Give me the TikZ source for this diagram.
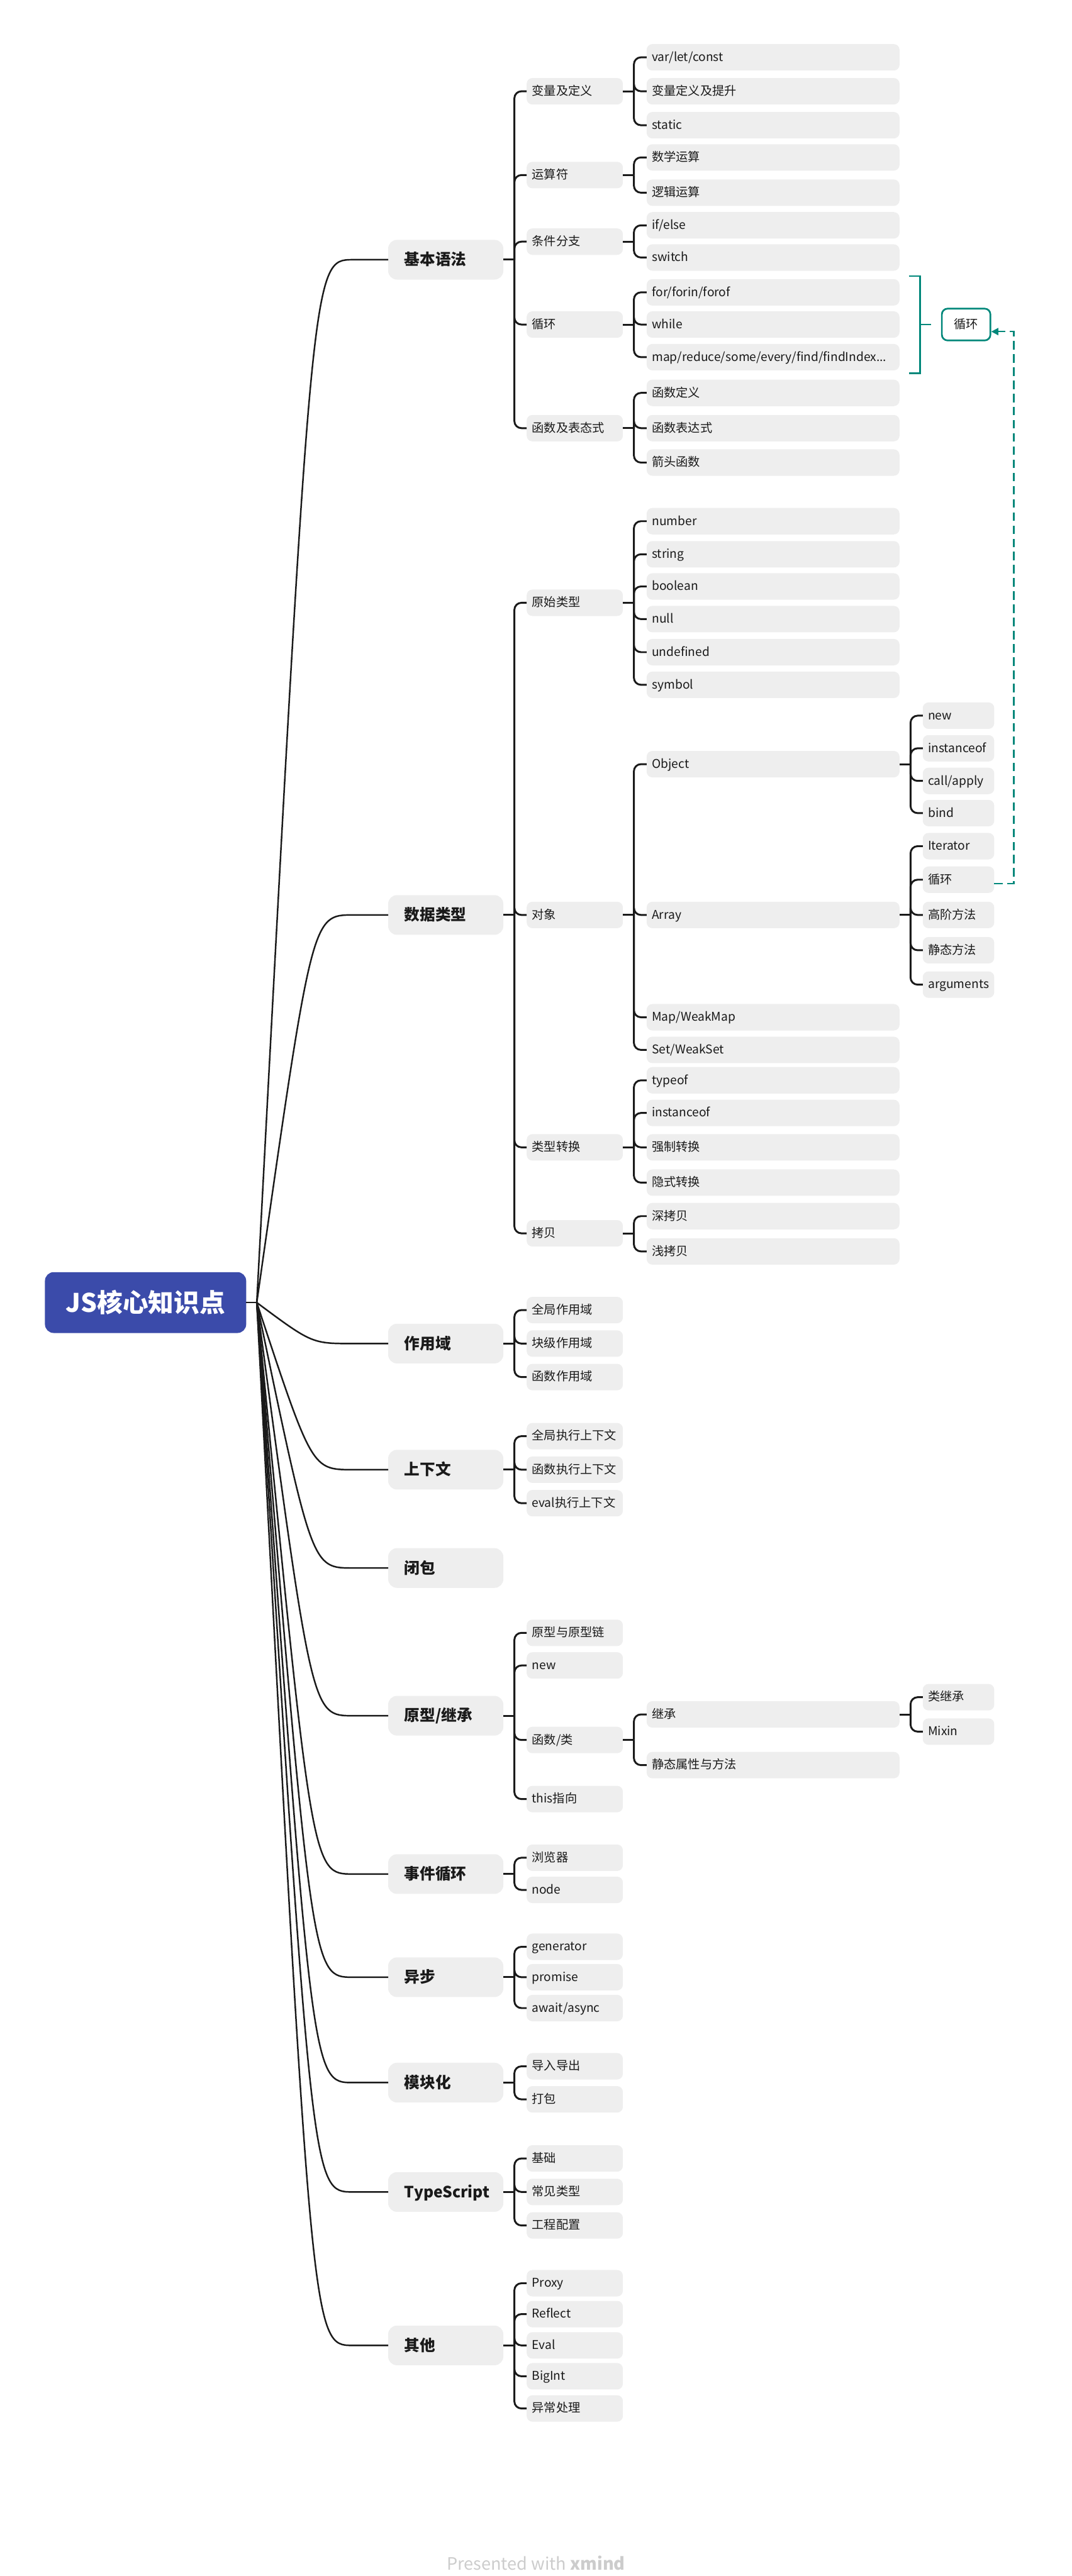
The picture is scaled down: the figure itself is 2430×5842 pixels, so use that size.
\documentclass[tikz,border=0pt]{standalone}
\usepackage{fontspec}
\setmainfont{Noto Sans CJK SC}
\usetikzlibrary{calc,arrows.meta}

\definecolor{boxgray}{HTML}{EEEEEE}
\definecolor{rootblue}{HTML}{3B4BAA}
\definecolor{ink}{HTML}{1A1A1A}
\definecolor{loopteal}{HTML}{00877A}
\definecolor{brandgray}{HTML}{CCCCCC}

\tikzset{
  trunk/.style={draw=ink, line width=1pt},
  twig/.style={draw=ink, line width=1.2pt, rounded corners=0.16cm},
  root/.style={fill=rootblue, rounded corners=0.2cm, minimum width=4.56cm, minimum height=1.38cm,
    inner sep=0pt, outer sep=0pt, text=white, font=\fontsize{16.5}{19}\selectfont\bfseries,
    text height=0.5cm, text depth=0.07cm},
  topic/.style={anchor=west, fill=boxgray, rounded corners=0.2cm, inner xsep=0.37cm, inner ysep=0pt,
    outer sep=0pt, text width=1.87cm, minimum height=0.9cm, align=left, text=ink,
    font=\fontsize{10}{12}\selectfont\bfseries, text height=0.3cm, text depth=0.05cm},
  leaf/.style={anchor=west, fill=boxgray, rounded corners=0.13cm, inner xsep=0.12cm, inner ysep=0pt,
    outer sep=0pt, text width=#1, minimum height=0.6cm, align=left, text=ink,
    font=\fontsize{7.8}{9}\selectfont, text height=0.22cm, text depth=0.04cm},
  summ/.style={anchor=west, draw=loopteal, line width=1.1pt, fill=white, rounded corners=0.13cm,
    minimum width=1.1cm, minimum height=0.72cm, inner sep=0pt, text=ink,
    font=\fontsize{7.8}{9}\selectfont, text height=0.22cm, text depth=0.04cm},
  bracket/.style={draw=loopteal, line width=1.1pt},
  relation/.style={draw=loopteal, line width=1pt, dash pattern=on 5.5pt off 3pt,
    -{Triangle[length=0.16cm, width=0.16cm]}},
  footer/.style={text=brandgray, font=\fontsize{11}{13}\selectfont},
}

\begin{document}
\begin{tikzpicture}[x=0.01cm, y=-0.01cm]
\useasboundingbox (0,0) rectangle (2430,5842);

\def\wsm{1.94cm}
\def\wlg{5.49cm}
\def\wxs{1.38cm}

% first level topic with its curve from the centre
% #1=name, #2=y, #3=text
\newcommand{\branch}[3]{
  \node[topic] (#1) at (880,#2) {#3};
  \draw[trunk] (rj) .. controls ($(rj |- #1.west)+(125,0)$) .. ($(#1.west)+(-80,0)$) -- (#1.west);
}
% junction right of a parent
% #1=parent, #2=junction
\newcommand{\hub}[2]{
  \coordinate (#2) at ($(#1.east)+(25,0)$);
  \draw[twig] (#1.east) -- (#2);
}
% child box hung on a junction
% #1=junction, #2=name, #3=x, #4=y, #5=text width, #6=text
\newcommand{\kid}[6]{
  \node[leaf=#5] (#2) at (#3,#4) {#6};
  \draw[twig] (#1) -- (#1 |- #2.west) -- (#2.west);
}

% ── Centre ──
\node[root] (core) at (330,2954) {JS核心知识点};
\coordinate (rj) at ($(core.east)+(24,0)$);
\draw[trunk] (core.east) -- (rj);

% ── 基本语法 ──
\branch{basics}{589}{基本语法}
\hub{basics}{jb}
\kid{jb}{bvar}{1194}{207}{\wsm}{变量及定义}
\kid{jb}{bop}{1194}{397}{\wsm}{运算符}
\kid{jb}{bif}{1194}{548}{\wsm}{条件分支}
\kid{jb}{bloop}{1194}{736}{\wsm}{循环}
\kid{jb}{bfn}{1194}{971}{\wsm}{函数及表态式}

\hub{bvar}{jbv}
\kid{jbv}{bkw}{1466}{130}{\wlg}{var/let/const}
\kid{jbv}{bhoist}{1466}{207}{\wlg}{变量定义及提升}
\kid{jbv}{bstatic}{1466}{284}{\wlg}{static}
\hub{bop}{jbo}
\kid{jbo}{bmath}{1466}{357}{\wlg}{数学运算}
\kid{jbo}{blogic}{1466}{437}{\wlg}{逻辑运算}
\hub{bif}{jbi}
\kid{jbi}{belse}{1466}{511}{\wlg}{if/else}
\kid{jbi}{bswitch}{1466}{584}{\wlg}{switch}
\hub{bloop}{jbl}
\kid{jbl}{bfor}{1466}{663}{\wlg}{for/forin/forof}
\kid{jbl}{bwhile}{1466}{736}{\wlg}{while}
\kid{jbl}{bmap}{1466}{810}{\wlg}{\mbox{map/reduce/some/every/find/findIndex...}}
\hub{bfn}{jbf}
\kid{jbf}{bdecl}{1466}{891}{\wlg}{函数定义}
\kid{jbf}{bexpr}{1466}{971}{\wlg}{函数表达式}
\kid{jbf}{barrow}{1466}{1049}{\wlg}{箭头函数}

% summary over the loop keywords
\coordinate (bkt) at ($(bfor.north east)+(21,-7)$);
\coordinate (bkb) at ($(bmap.south east)+(21,6)$);
\draw[bracket] (bkt) -- ++(26,0) coordinate (bkr) |- (bkb);
\draw[bracket] (bkr |- bwhile.east) -- ++(24,0) coordinate (bkm);
\node[summ] (sumloop) at ($(bkm)+(23,0)$) {循环};

% ── 数据类型 ──
\branch{types}{2075}{数据类型}
\hub{types}{jt}
\kid{jt}{prim}{1194}{1367}{\wsm}{原始类型}
\kid{jt}{obj}{1194}{2075}{\wsm}{对象}
\kid{jt}{conv}{1194}{2602}{\wsm}{类型转换}
\kid{jt}{copy}{1194}{2797}{\wsm}{拷贝}

\hub{prim}{jp}
\kid{jp}{tnum}{1466}{1182}{\wlg}{number}
\kid{jp}{tstr}{1466}{1257}{\wlg}{string}
\kid{jp}{tbool}{1466}{1330}{\wlg}{boolean}
\kid{jp}{tnull}{1466}{1404}{\wlg}{null}
\kid{jp}{tundef}{1466}{1479}{\wlg}{undefined}
\kid{jp}{tsym}{1466}{1553}{\wlg}{symbol}

\hub{obj}{jo}
\kid{jo}{oobj}{1466}{1733}{\wlg}{Object}
\kid{jo}{oarr}{1466}{2075}{\wlg}{Array}
\kid{jo}{omap}{1466}{2307}{\wlg}{Map/WeakMap}
\kid{jo}{oset}{1466}{2381}{\wlg}{Set/WeakSet}
\hub{oobj}{joo}
\kid{joo}{onew}{2092}{1623}{\wxs}{new}
\kid{joo}{oinst}{2092}{1697}{\wxs}{instanceof}
\kid{joo}{ocall}{2092}{1771}{\wxs}{call/apply}
\kid{joo}{obind}{2092}{1844}{\wxs}{bind}
\hub{oarr}{joa}
\kid{joa}{aiter}{2092}{1919}{\wxs}{Iterator}
\kid{joa}{aloop}{2092}{1995}{\wxs}{循环}
\kid{joa}{ahigh}{2092}{2075}{\wxs}{高阶方法}
\kid{joa}{astatic}{2092}{2155}{\wxs}{静态方法}
\kid{joa}{aargs}{2092}{2233}{\wxs}{arguments}

\hub{conv}{jc}
\kid{jc}{ctypeof}{1466}{2450}{\wlg}{typeof}
\kid{jc}{cinst}{1466}{2524}{\wlg}{instanceof}
\kid{jc}{cforce}{1466}{2602}{\wlg}{强制转换}
\kid{jc}{cimpl}{1466}{2682}{\wlg}{隐式转换}
\hub{copy}{jk}
\kid{jk}{kdeep}{1466}{2758}{\wlg}{深拷贝}
\kid{jk}{kflat}{1466}{2838}{\wlg}{浅拷贝}

% relation: array loop -> summary
\draw[relation] ($(aloop.east)+(0,9)$) -- ++(44,0) |- ($(sumloop.east)+(0,16)$);

% ── 作用域 ──
\branch{scope}{3047}{作用域}
\hub{scope}{js}
\kid{js}{sglobal}{1194}{2971}{\wsm}{全局作用域}
\kid{js}{sblock}{1194}{3047}{\wsm}{块级作用域}
\kid{js}{sfunc}{1194}{3123}{\wsm}{函数作用域}

% ── 上下文 ──
\branch{ctx}{3333}{上下文}
\hub{ctx}{jx}
\kid{jx}{xglobal}{1194}{3257}{\wsm}{全局执行上下文}
\kid{jx}{xfunc}{1194}{3333}{\wsm}{函数执行上下文}
\kid{jx}{xeval}{1194}{3409}{\wsm}{eval执行上下文}

% ── 闭包 ──
\branch{closure}{3556}{闭包}

% ── 原型/继承 ──
\branch{proto}{3891}{原型/继承}
\hub{proto}{jr}
\kid{jr}{rchain}{1194}{3703}{\wsm}{原型与原型链}
\kid{jr}{rnew}{1194}{3777}{\wsm}{new}
\kid{jr}{rclass}{1194}{3946}{\wsm}{函数/类}
\kid{jr}{rthis}{1194}{4080}{\wsm}{this指向}
\hub{rclass}{jrc}
\kid{jrc}{rinh}{1466}{3888}{\wlg}{继承}
\kid{jrc}{rstatic}{1466}{4003}{\wlg}{静态属性与方法}
\hub{rinh}{jri}
\kid{jri}{rext}{2092}{3849}{\wxs}{类继承}
\kid{jri}{rmixin}{2092}{3927}{\wxs}{Mixin}

% ── 事件循环 ──
\branch{evloop}{4250}{事件循环}
\hub{evloop}{je}
\kid{je}{ebrowser}{1194}{4213}{\wsm}{浏览器}
\kid{je}{enode}{1194}{4286}{\wsm}{node}

% ── 异步 ──
\branch{async}{4484}{异步}
\hub{async}{ja}
\kid{ja}{ygen}{1194}{4415}{\wsm}{generator}
\kid{ja}{yprom}{1194}{4484}{\wsm}{promise}
\kid{ja}{yawait}{1194}{4554}{\wsm}{await/async}

% ── 模块化 ──
\branch{modules}{4723}{模块化}
\hub{modules}{jm}
\kid{jm}{mio}{1194}{4686}{\wsm}{导入导出}
\kid{jm}{mpack}{1194}{4761}{\wsm}{打包}

% ── TypeScript ──
\branch{tscript}{4971}{TypeScript}
\hub{tscript}{jts}
\kid{jts}{tbase}{1194}{4895}{\wsm}{基础}
\kid{jts}{tcommon}{1194}{4971}{\wsm}{常见类型}
\kid{jts}{tconf}{1194}{5047}{\wsm}{工程配置}

% ── 其他 ──
\branch{misc}{5319}{其他}
\hub{misc}{jq}
\kid{jq}{qproxy}{1194}{5178}{\wsm}{Proxy}
\kid{jq}{qreflect}{1194}{5248}{\wsm}{Reflect}
\kid{jq}{qeval}{1194}{5319}{\wsm}{Eval}
\kid{jq}{qbig}{1194}{5389}{\wsm}{BigInt}
\kid{jq}{qerr}{1194}{5462}{\wsm}{异常处理}

% ── Footer ──
\node[footer] (brand) at (1215,5813) {Presented with \textbf{xmind}};

\end{tikzpicture}
\end{document}
